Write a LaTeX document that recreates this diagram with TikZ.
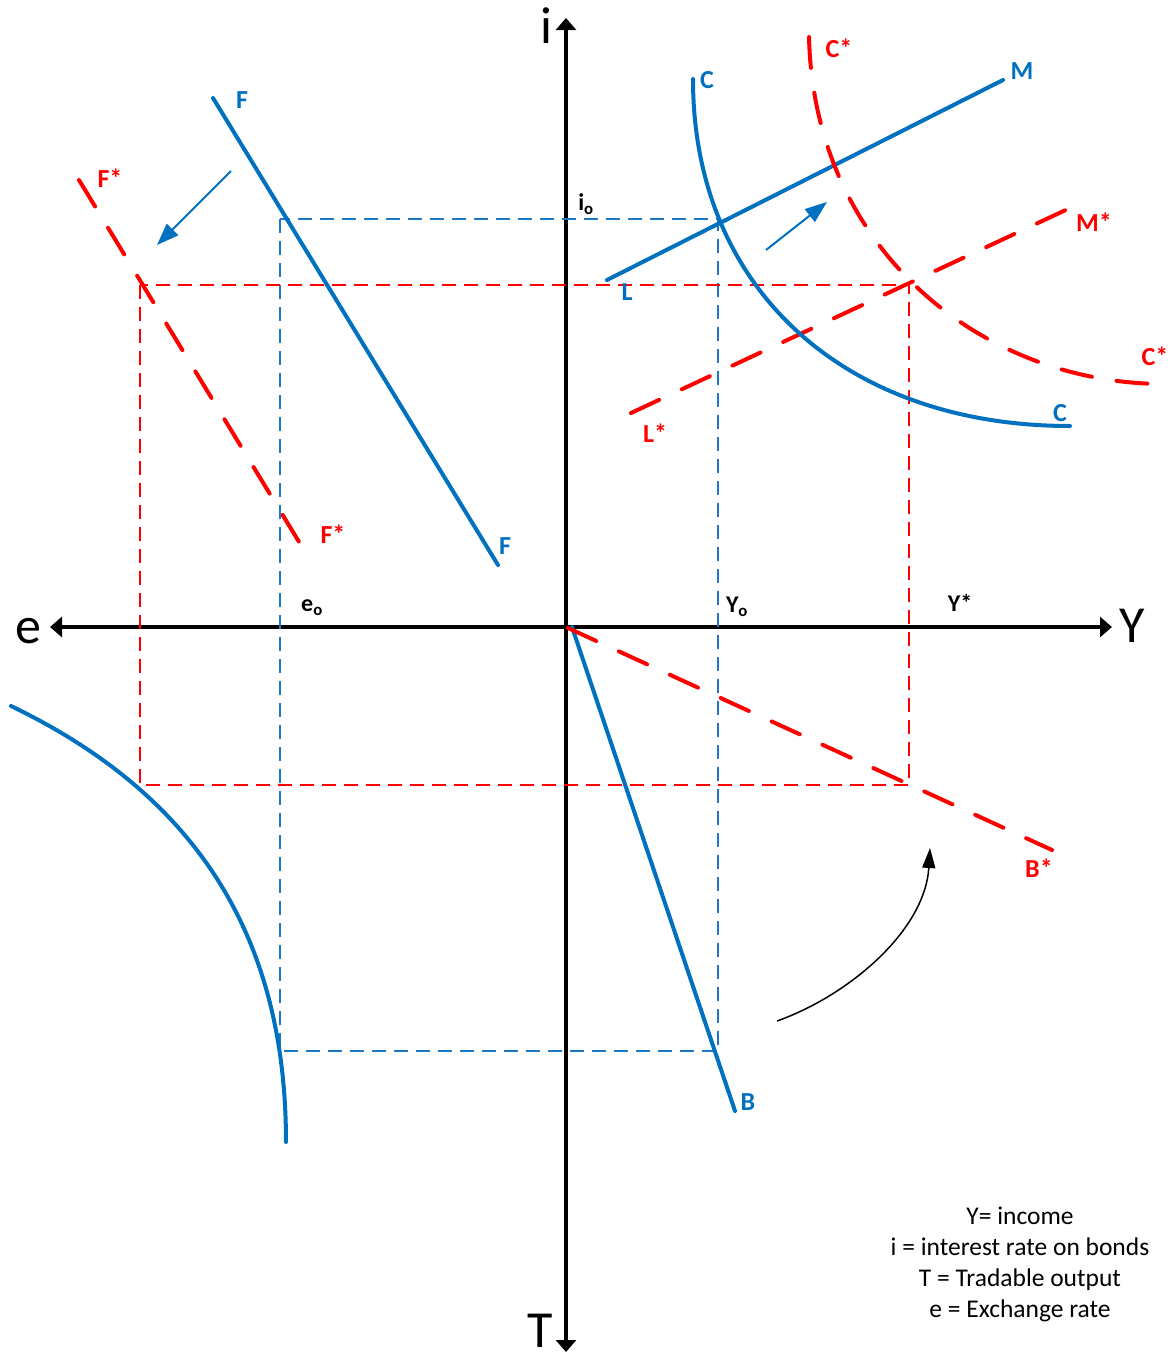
\documentclass[tikz,border=0pt]{standalone}
\usepackage{fontspec}
\setmainfont{Carlito}
\usetikzlibrary{arrows.meta}
\definecolor{cblue}{RGB}{0,112,192}
\definecolor{dblue}{RGB}{30,120,200}
\definecolor{cred}{RGB}{255,0,0}
\begin{document}
\begin{tikzpicture}[x=1pt,y=-1pt,
  axisline/.style={line width=4pt,{Triangle[length=12pt,width=20pt]}-{Triangle[length=12pt,width=20pt]}},
  axislabel/.style={font=\fontsize{52}{60}\selectfont,anchor=base,inner sep=0pt},
  bluecurve/.style={cblue,line width=4pt,line cap=round},
  redcurve/.style={cred,line width=4pt,line cap=round,dash pattern=on 31pt off 25pt},
  bluedash/.style={dblue,line width=1.6pt,dash pattern=on 14pt off 8pt},
  reddash/.style={cred,line width=1.6pt,dash pattern=on 14pt off 8pt},
  shiftarrow/.style={cblue,line width=2pt,-{Triangle[length=22pt,width=16pt]}},
  lab/.style={font=\bfseries\fontsize{26}{30}\selectfont,inner sep=0pt},
  bluelab/.style={lab,text=cblue},
  redlab/.style={lab,text=cred},
  blacklab/.style={lab,text=black,font=\bfseries\fontsize{24}{28}\selectfont}
]
\useasboundingbox (0,0) rectangle (1171,1361);

% axes
\coordinate (itop) at (566,18);
\coordinate (tbot) at (566,1352);
\coordinate (eleft) at (50,627);
\coordinate (yright) at (1112,627);
\draw[axisline] (tbot) -- (itop);
\draw[axisline] (eleft) -- (yright);
\node[axislabel] (labi) at (546,43) {i};
\node[axislabel] (labT) at (540,1347) {T};
\node[axislabel] (labe) at (28,643) {e};
\node[axislabel] (labY) at (1132,642) {Y};

% thin dashed rectangles
\coordinate (bTL) at (280,219);
\coordinate (bBR) at (718,1051);
\coordinate (rTL) at (140,285);
\coordinate (rBR) at (909,785);
\draw[bluedash] (bTL) rectangle (bBR);
\draw[reddash] (rTL) rectangle (rBR);

% F line and F*
\coordinate (Ft) at (213,98);
\coordinate (Fb) at (498,565);
\draw[bluecurve] (Ft) -- (Fb);
\coordinate (Fst) at (79,180);
\coordinate (Fsb) at (307,555);
\draw[redcurve] (Fst) -- (Fsb);

% LM and L*M*
\coordinate (Lp) at (607,280);
\coordinate (Mp) at (1003,80);
\draw[bluecurve] (Lp) -- (Mp);
\coordinate (Lsp) at (631,413);
\coordinate (Msp) at (1085,201);
\draw[redcurve] (Lsp) -- (Msp);

% C curve and C*
\coordinate (Ct) at (693,79);
\coordinate (Cb) at (1070,426);
\draw[bluecurve] (Ct) .. controls (693,289) and (845,426) .. (Cb);
\coordinate (Cst) at (809,37);
\coordinate (Csb) at (1165,384);
\draw[redcurve] (Cst) .. controls (814,249) and (981,384) .. (Csb);

% B and B*
\coordinate (Bt) at (572,627);
\coordinate (Bb) at (735,1111);
\draw[bluecurve] (Bt) -- (Bb);
\coordinate (Bst) at (568,628);
\coordinate (Bsb) at (1052,850);
\draw[redcurve] (Bst) -- (Bsb);

% lower-left curve
\coordinate (Tt) at (11,706);
\coordinate (Tb) at (286,1142);
\draw[bluecurve] (Tt) .. controls (196,795) and (286,936) .. (Tb);

% shift arrows
\coordinate (a1s) at (231,171);
\coordinate (a1e) at (157,245);
\draw[shiftarrow] (a1s) -- (a1e);
\coordinate (a2s) at (766,250);
\coordinate (a2e) at (827,202);
\draw[shiftarrow] (a2s) -- (a2e);
\coordinate (a3s) at (777,1021);
\coordinate (a3e) at (930,848);
\draw[line width=1.5pt,-{Triangle[length=20pt,width=13pt]}] (a3s) .. controls (850,995) and (925,930) .. (a3e);

% labels
\node[bluelab] (lF1) at (242,100) {F};
\node[bluelab] (lF2) at (505,546) {F};
\node[redlab] (lFs1) at (110,178) {F*};
\node[redlab] (lFs2) at (333,534) {F*};
\node[bluelab] (lC1) at (707,80) {C};
\node[bluelab] (lC2) at (1060,413) {C};
\node[redlab] (lCs1) at (839,48) {C*};
\node[redlab] (lCs2) at (1155,356) {C*};
\node[bluelab] (lM) at (1022,71) {M};
\node[bluelab] (lL) at (627,292) {L};
\node[redlab] (lMs) at (1094,222) {M*};
\node[redlab] (lLs) at (655,433) {L*};
\node[bluelab] (lB) at (748,1102) {B};
\node[redlab] (lBs) at (1039,868) {B*};
\node[blacklab] (lio) at (586,204) {i\textsubscript{o}};
\node[blacklab] (leo) at (312,608) {e\textsubscript{o}};
\node[blacklab] (lYo) at (737,607) {Y\textsubscript{o}};
\node[blacklab] (lYs) at (960,603) {Y*};

% legend
\node[font=\fontsize{25.5}{31}\selectfont,align=center,inner sep=0pt] (legend) at (1020,1264) {Y= income\\i = interest rate on bonds\\T = Tradable output\\e = Exchange rate};
\end{tikzpicture}
\end{document}
